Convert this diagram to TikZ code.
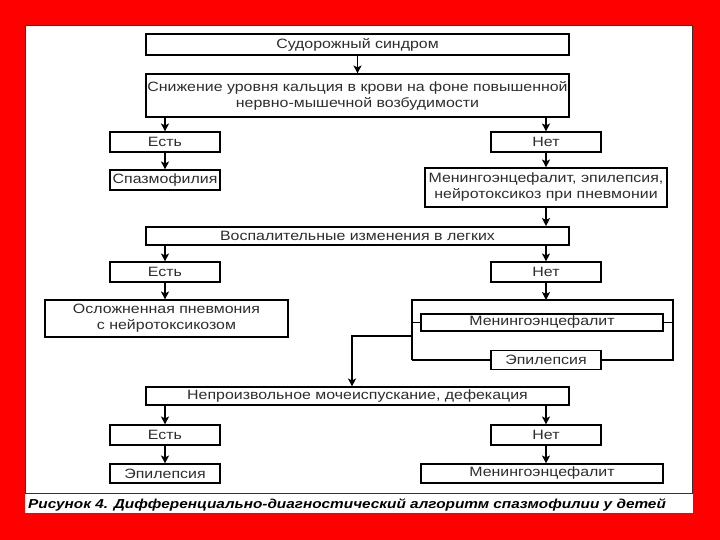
\documentclass[tikz,border=0pt]{standalone}
\usepackage{fontspec}
\setmainfont{Liberation Sans}[FakeStretch=1.18]
\usetikzlibrary{arrows.meta, positioning}

\definecolor{slideRed}{RGB}{255,0,0}
\definecolor{textGray}{RGB}{45,45,45}

\begin{document}
\begin{tikzpicture}
	[
		x=1pt, y=-1pt,
		box/.style={
				rectangle,
				draw=black,
				line width=1.1pt,
				fill=white,
				inner sep=0pt,
				minimum width=110pt,
				minimum height=20pt,
				text=textGray,
				align=center,
				font=\fontsize{13.5}{16}\selectfont,
			},
		wideBox/.style={
				box,
				minimum width=423pt,
			},
		midBox/.style={
				box,
				minimum width=242pt,
			},
		arrowLine/.style={
				line width=1.3pt,
				-{Stealth[length=8pt, width=8pt, inset=2pt]},
			},
		plainLine/.style={
				line width=1.1pt,
			},
	]
	\useasboundingbox (0,0) rectangle (720,540);
	\fill[slideRed] (0,0) rectangle (720,540);
	\fill[white] (25,25) rectangle (693,513);
	\draw[black!80, line width=0.8pt] (25.5,25.5) rectangle (692,493);

	% first question
	\node[wideBox, minimum height=21pt] (seizure) at (357.5,44.5) {Судорожный синдром};
	\node[wideBox, minimum height=43pt] (calcium) at (357.5,95.5)
		{Снижение уровня кальция в крови на фоне повышенной\\нервно-мышечной возбудимости};
	\node[box] (yesA) at (165,142) {Есть};
	\node[box] (noA)  at (546,142) {Нет};
	\node[box] (spasm) at (165,180) {Спазмофилия};
	\node[midBox, minimum height=39pt] (mixed) at (546,187.5)
		{Менингоэнцефалит, эпилепсия,\\нейротоксикоз при пневмонии};

	% second question
	\node[wideBox, minimum height=18pt, line width=2pt] (lungs) at (357.5,236) {Воспалительные изменения в легких};
	\node[box] (yesB) at (165,272) {Есть};
	\node[box] (noB)  at (546,272) {Нет};
	\node[box, minimum width=243pt, minimum height=37pt] (pneum) at (166.5,318.5)
		{Осложненная пневмония\\с нейротоксикозом};

	% bracket on the right
	\coordinate (brTL) at (412,300);
	\coordinate (brTR) at (673,300);
	\coordinate (brBL) at (412,360);
	\coordinate (brBR) at (673,360);
	\coordinate (turn) at (352,336);
	\draw[plainLine] (brBL) -- (brTL) -- (brTR) -- (brBR) -- (brBL);
	\node[midBox, minimum height=17pt] (menA) at (542,322.5) {Менингоэнцефалит};
	\node[box, minimum height=19pt] (epiA) at (546,360) {Эпилепсия};
	\draw[plainLine] (brTL |- menA.west) -- (menA.west);
	\draw[plainLine] (menA.east) -- (brTR |- menA.east);

	% third question
	\node[wideBox, minimum height=18pt] (urine) at (357.5,396) {Непроизвольное мочеиспускание, дефекация};
	\node[box] (yesC) at (165,435) {Есть};
	\node[box] (noC)  at (546,435) {Нет};
	\node[box, minimum height=19pt] (epiB) at (165,473.5) {Эпилепсия};
	\node[midBox, minimum height=19pt] (menB) at (542,473.5) {Менингоэнцефалит};

	% arrows
	\draw[arrowLine] (seizure) -- (seizure |- calcium.north);
	\draw[arrowLine] (yesA |- calcium.south) -- (yesA);
	\draw[arrowLine] (noA |- calcium.south) -- (noA);
	\draw[arrowLine] (yesA) -- (spasm);
	\draw[arrowLine] (noA) -- (mixed);
	\draw[arrowLine] (mixed) -- (mixed |- lungs.north);
	\draw[arrowLine] (yesB |- lungs.south) -- (yesB);
	\draw[arrowLine] (noB |- lungs.south) -- (noB);
	\draw[arrowLine] (yesB) -- (yesB |- pneum.north);
	\draw[arrowLine] (noB) -- (noB |- brTL);
	\draw[arrowLine] (brTL |- turn) -- (turn) -- (turn |- urine.north);
	\draw[arrowLine] (yesC |- urine.south) -- (yesC);
	\draw[arrowLine] (noC |- urine.south) -- (noC);
	\draw[arrowLine] (yesC) -- (epiB);
	\draw[arrowLine] (noC) -- (noC |- menB.north);

	\node[anchor=west, inner sep=0pt, font=\fontsize{13}{15}\bfseries\itshape\selectfont] (caption) at (28,505)
		{Рисунок 4. Дифференциально-диагностический алгоритм спазмофилии у детей};
\end{tikzpicture}
\end{document}
